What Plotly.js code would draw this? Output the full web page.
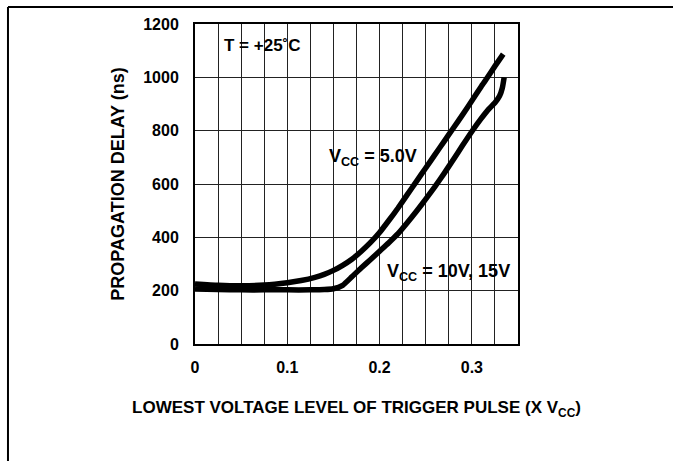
<!DOCTYPE html>
<html>
<head>
<meta charset="utf-8">
<script src="https://cdn.plot.ly/plotly-3.0.1.min.js"></script>
<style>html,body{margin:0;padding:0;background:#fff;}#chart{width:673px;height:461px;}</style>
</head>
<body>
<div id="chart"></div>
<script>
// Vcc = 5.0V curve
const x5 = [0, 0.025, 0.05, 0.075, 0.1, 0.115, 0.13, 0.14, 0.15, 0.16, 0.17, 0.18, 0.19, 0.2, 0.21, 0.22, 0.23, 0.24, 0.25, 0.26, 0.27, 0.28, 0.29, 0.3, 0.31, 0.317, 0.325, 0.334];
const y5 = [225, 220, 218, 221, 230, 238, 250, 261, 276, 295, 318, 347, 380, 418, 463, 510, 560, 610, 660, 710, 760, 810, 860, 912, 965, 1000, 1042, 1087];
// Vcc = 10V, 15V curve
const x10 = [0, 0.025, 0.05, 0.075, 0.1, 0.125, 0.14, 0.15, 0.16, 0.17, 0.18, 0.19, 0.2, 0.21, 0.22, 0.23, 0.24, 0.25, 0.26, 0.27, 0.28, 0.29, 0.3, 0.31, 0.318, 0.325, 0.33, 0.333, 0.335];
const y10 = [206, 204, 203, 203, 203, 203, 204, 207, 220, 252, 285, 316, 348, 380, 414, 455, 498, 543, 590, 640, 692, 745, 797, 845, 880, 905, 930, 960, 1000];
const yTicks = [0, 200, 400, 600, 800, 1000, 1200];
const xTicks = [0, 0.1, 0.2, 0.3];
const xTickText = ['0', '0.1', '0.2', '0.3'];

const FONT = '"Liberation Sans", Arial, sans-serif';

const traces = [
  {x: x5, y: y5, mode: 'lines', line: {color: '#000', width: 5.5, shape: 'spline', smoothing: 0.5}, hoverinfo: 'skip'},
  {x: x10, y: y10, mode: 'lines', line: {color: '#000', width: 5.5, shape: 'spline', smoothing: 0.5}, hoverinfo: 'skip'}
];

const layout = {
  width: 673, height: 461,
  margin: {l: 195, r: 155, t: 24, b: 117},
  paper_bgcolor: '#fff', plot_bgcolor: '#fff',
  showlegend: false,
  font: {family: FONT, color: '#000'},
  xaxis: {
    range: [0, 0.35], tickvals: xTicks, ticktext: xTickText,
    showgrid: true, gridcolor: '#222', gridwidth: 1,
    minor: {dtick: 0.025, tick0: 0, showgrid: true, gridcolor: '#222', gridwidth: 1},
    showline: true, mirror: true, linecolor: '#000', linewidth: 2,
    ticks: '', ticklabelstandoff: 8,
    tickfont: {family: FONT, size: 16, color: '#000', weight: 'bold'},
    zeroline: false,
    title: {text: 'LOWEST VOLTAGE LEVEL OF TRIGGER PULSE (X V<sub>CC</sub>)', standoff: 26,
            font: {family: FONT, size: 17, color: '#000', weight: 'bold'}}
  },
  yaxis: {
    range: [0, 1200], tickvals: yTicks,
    showgrid: true, gridcolor: '#222', gridwidth: 1,
    showline: true, mirror: true, linecolor: '#000', linewidth: 2,
    ticks: '', ticklabelstandoff: 11,
    tickfont: {family: FONT, size: 16, color: '#000', weight: 'bold'},
    zeroline: false,
    title: {text: 'PROPAGATION DELAY (ns)', standoff: 14,
            font: {family: FONT, size: 18, color: '#000', weight: 'bold'}}
  },
  annotations: [
    {x: 0.029, y: 1121, xref: 'x', yref: 'y', xanchor: 'left', yanchor: 'middle', showarrow: false,
     text: 'T = +25˚C', font: {family: FONT, size: 17, color: '#000', weight: 'bold'}},
    {x: 0.143, y: 701, xref: 'x', yref: 'y', xanchor: 'left', yanchor: 'middle', showarrow: false,
     text: 'V<sub>CC</sub> = 5.0V', font: {family: FONT, size: 18, color: '#000', weight: 'bold'}},
    {x: 0.206, y: 270, xref: 'x', yref: 'y', xanchor: 'left', yanchor: 'middle', showarrow: false,
     text: 'V<sub>CC</sub> = 10V, 15V', font: {family: FONT, size: 18, color: '#000', weight: 'bold'}}
  ],
  shapes: [
    {type: 'line', xref: 'paper', yref: 'paper', x0: -0.579, y0: 1.053, x1: 1.5, y1: 1.053, line: {color: '#000', width: 2}},
    {type: 'line', xref: 'paper', yref: 'paper', x0: -0.579, y0: 1.053, x1: -0.579, y1: -0.5, line: {color: '#000', width: 2}}
  ]
};

Plotly.newPlot('chart', traces, layout, {staticPlot: true, displayModeBar: false});
</script>
</body>
</html>
